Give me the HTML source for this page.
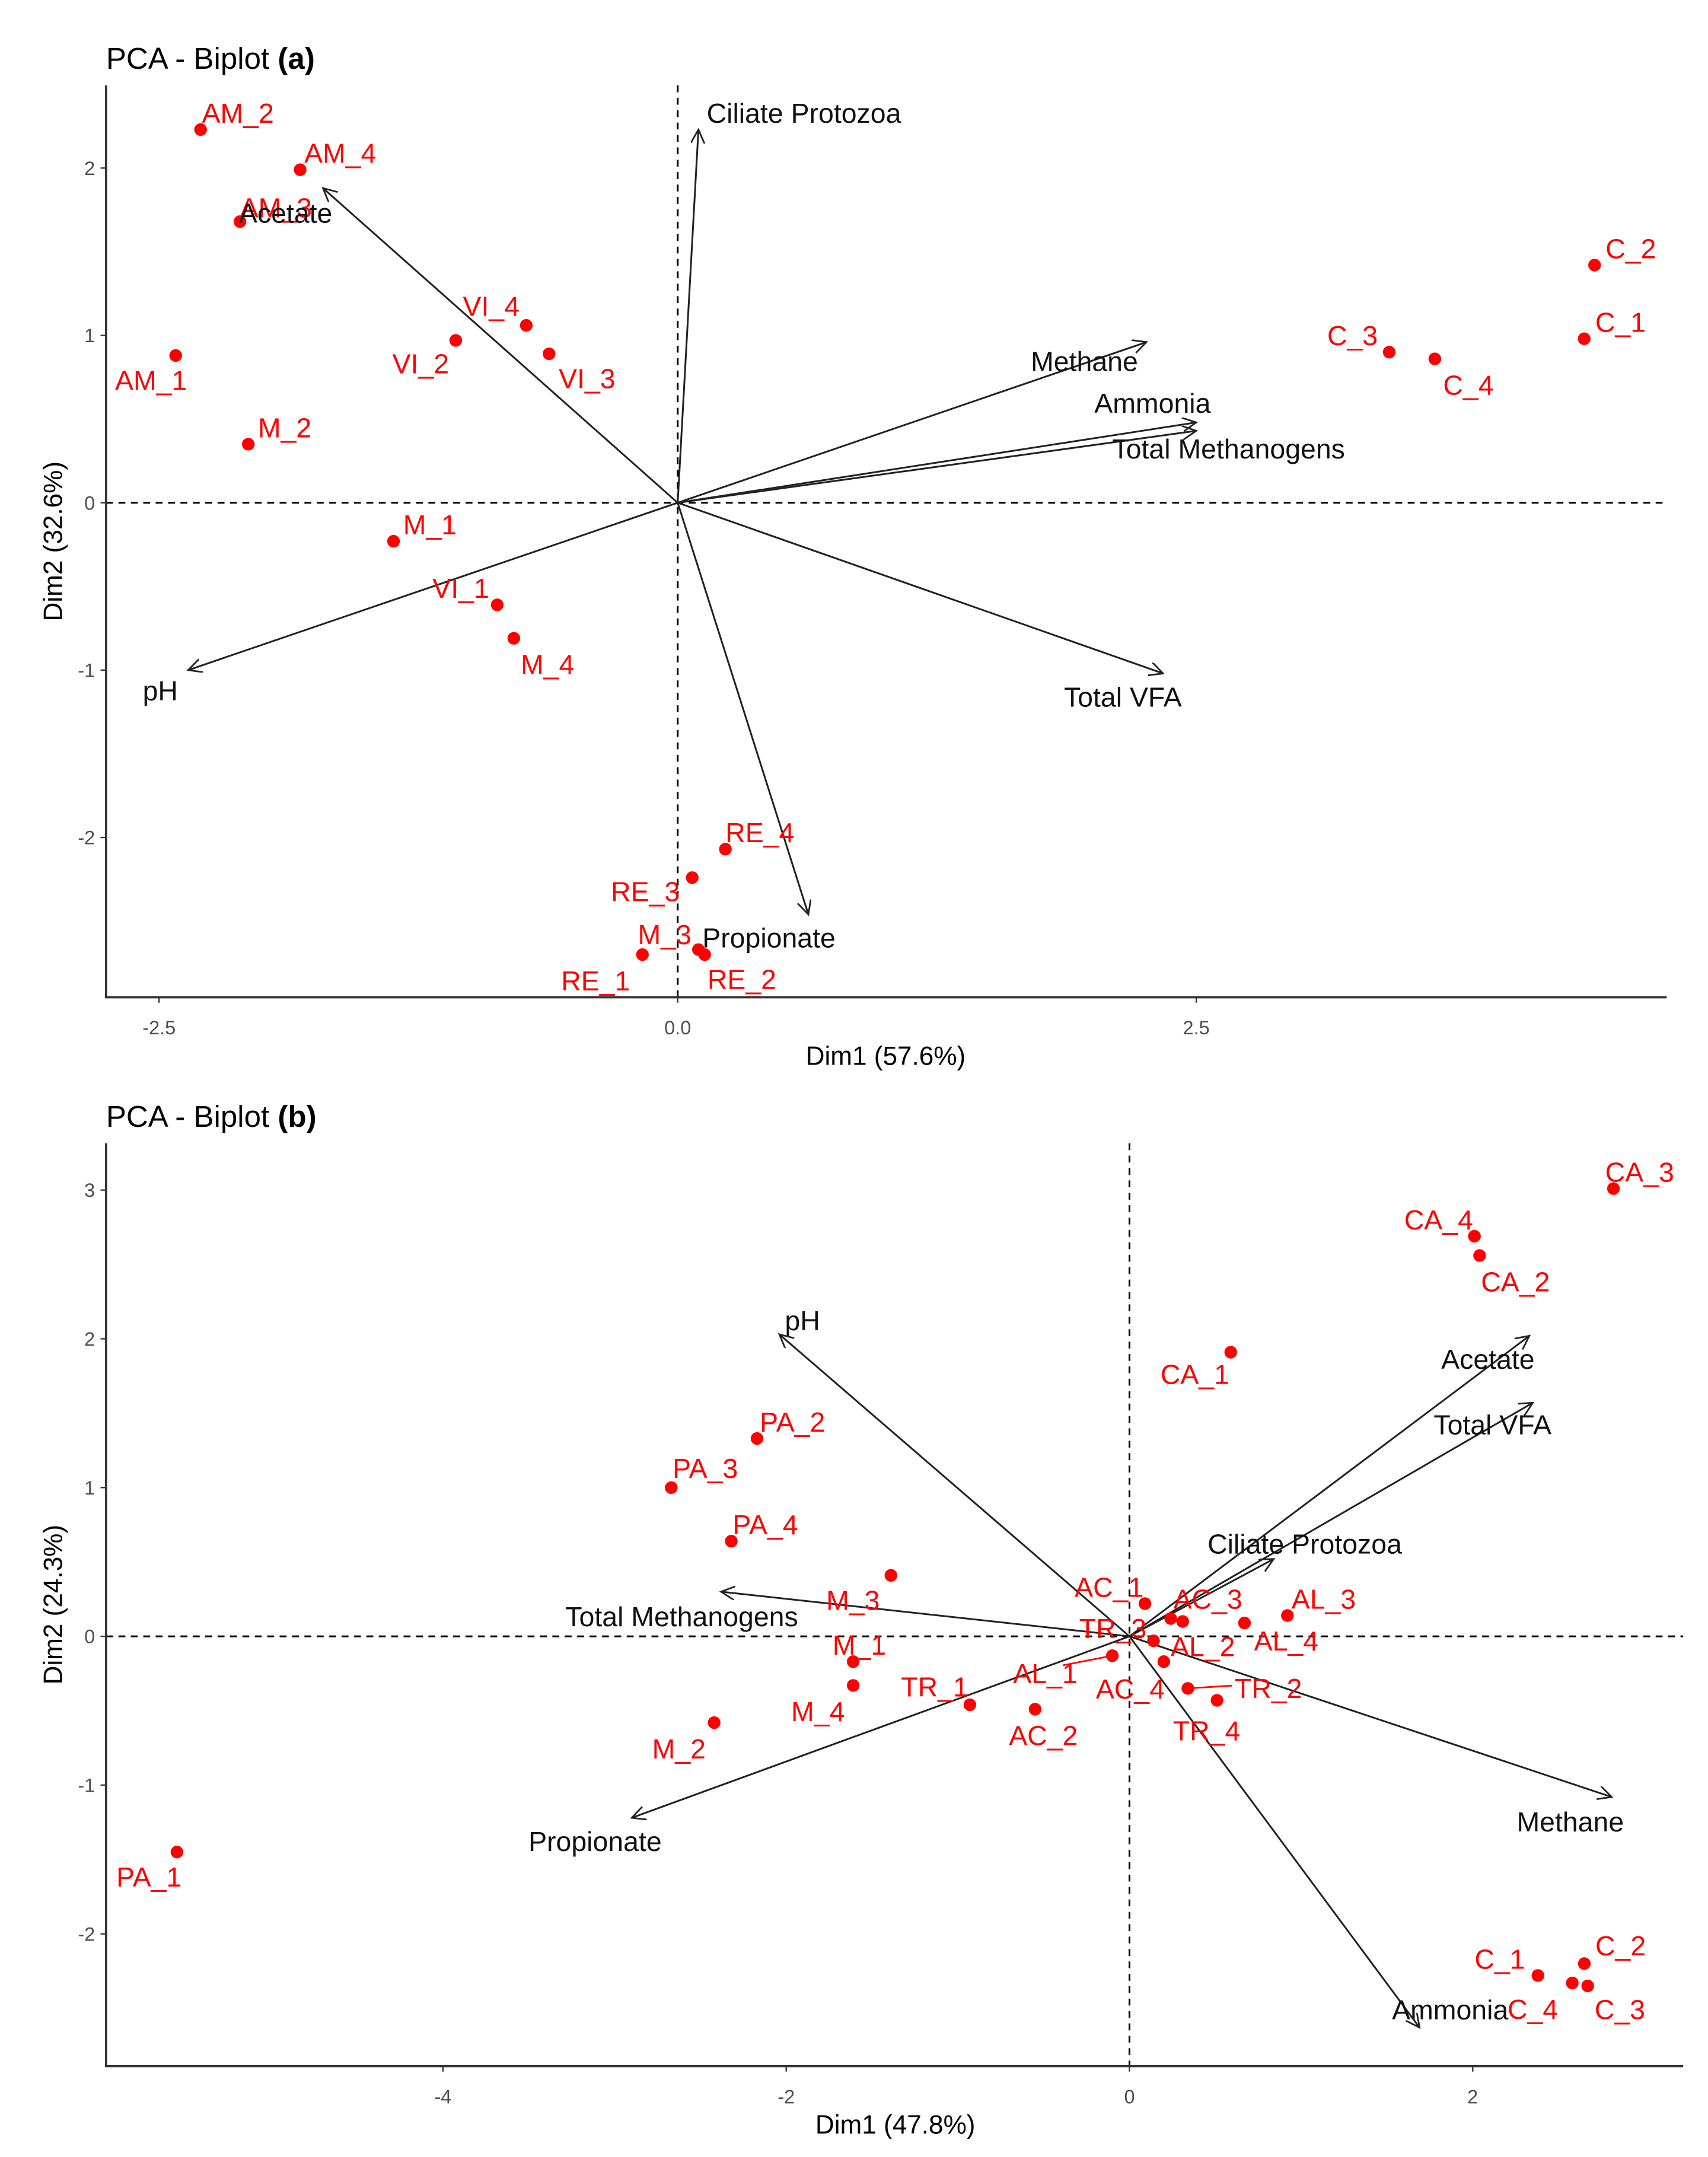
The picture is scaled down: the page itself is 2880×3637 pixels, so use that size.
<!DOCTYPE html>
<html><head><meta charset="utf-8"><style>
html,body{margin:0;padding:0;background:#fff}
svg{display:block}
text{font-family:"Liberation Sans",Arial,sans-serif}
</style></head><body>
<svg id="chart" width="2880" height="3637" viewBox="0 0 1240 1566" preserveAspectRatio="none" xmlns="http://www.w3.org/2000/svg">
<defs><marker id="ah" markerWidth="12" markerHeight="12" refX="10" refY="5" orient="auto" markerUnits="userSpaceOnUse"><path d="M0,0 L10,5 L0,10" fill="none" stroke="#222" stroke-width="1.2"/></marker></defs>
<g id="root"></g>
</svg>
<script>
// ---------- Panel (a) data ----------
const aNames = ["AM_2","AM_4","AM_3","AM_1","M_2","VI_4","VI_2","VI_3","M_1","VI_1","M_4","RE_4","RE_3","M_3","RE_2","RE_1","C_2","C_1","C_3","C_4"];
const aDim1 = [-2.30,-1.82,-2.11,-2.42,-2.07,-0.73,-1.07,-0.62,-1.37,-0.87,-0.79,0.23,0.07,0.10,0.13,-0.17,4.42,4.37,3.43,3.65];
const aDim2 = [2.23,1.99,1.68,0.88,0.35,1.06,0.97,0.89,-0.23,-0.61,-0.81,-2.07,-2.24,-2.67,-2.70,-2.70,1.42,0.98,0.90,0.86];
const aVarNames = ["Ciliate Protozoa","Acetate","Methane","Ammonia","Total Methanogens","Total VFA","pH","Propionate"];
const aVarX = [0.10,-1.71,2.26,2.50,2.50,2.34,-2.36,0.63];
const aVarY = [2.23,1.88,0.96,0.48,0.43,-1.02,-1.00,-2.46];
const aXTicks = [-2.5,0,2.5];
const aXTickLabels = ["-2.5","0.0","2.5"];
const aYTicks = [-2,-1,0,1,2];
const aYTickLabels = ["-2","-1","0","1","2"];
// ---------- Panel (b) data ----------
const bNames = ["CA_3","CA_4","CA_2","CA_1","PA_2","PA_3","PA_4","M_3","M_1","M_4","M_2","TR_1","AC_2","AL_1","AC_1","AC_3","AC_4","AL_4","AL_3","TR_3","AL_2","TR_2","TR_4","PA_1","C_1","C_2","C_4","C_3"];
const bDim1 = [2.82,2.01,2.04,0.59,-2.17,-2.67,-2.32,-1.39,-1.61,-1.61,-2.42,-0.93,-0.55,-0.10,0.09,0.24,0.31,0.67,0.92,0.14,0.20,0.34,0.51,-5.55,2.38,2.65,2.58,2.67];
const bDim2 = [3.01,2.69,2.56,1.91,1.33,1.00,0.64,0.41,-0.17,-0.33,-0.58,-0.46,-0.49,-0.13,0.22,0.12,0.10,0.09,0.14,-0.03,-0.17,-0.35,-0.43,-1.45,-2.28,-2.20,-2.33,-2.35];
const bVarNames = ["pH","Acetate","Total VFA","Ciliate Protozoa","Total Methanogens","Propionate","Methane","Ammonia"];
const bVarX = [-2.04,2.33,2.35,0.84,-2.38,-2.90,2.81,1.69];
const bVarY = [2.03,2.02,1.57,0.52,0.30,-1.22,-1.08,-2.63];
const bXTicks = [-4,-2,0,2];
const bXTickLabels = ["-4","-2","0","2"];
const bYTicks = [-2,-1,0,1,2,3];
const bYTickLabels = ["-2","-1","0","1","2","3"];

// ---------- layout (not data) ----------
const aLabOff = [[1,-5],[3,-5],[0,-3],[-44,25],[7,-5],[-46,-7],[-46,24],[7,25],[7,-5],[-47,-5],[5,26],[0,-5],[-59,17],[-44,-4],[2,25],[-59,26],[8,-5],[8,-5],[-45,-5],[6,26]];
const aVarLabOff = [[6,-5],[-61,25],[-84,21],[-74,-7],[-61,20],[-72,24],[-33,22],[-77,24]];
const bLabOff = [[-6,-5],[-51,-5],[1,26],[-51,23],[2,-5],[1,-7],[1,-5],[-47,25],[-15,-5],[-45,26],[-45,26],[-50,-6],[-19,26],[-72,20],[-51,-5],[2,-7],[-63,56],[7,20],[3,-5],[-54,-2],[5,-4],[34,7],[-32,29],[-44,25],[-46,-5],[8,-6],[-47,26],[5,24]];
const bVarLabOff = [[4,-3],[-64,24],[-72,23],[-48,-4],[-113,25],[-75,24],[-69,25],[-20,-6]];

const NS="http://www.w3.org/2000/svg";
const root=document.getElementById('root');
function mk(tag,attrs,parent,txt){const e=document.createElementNS(NS,tag);for(const k in attrs)e.setAttribute(k,attrs[k]);if(txt!==undefined)e.textContent=txt;(parent||root).appendChild(e);return e;}

function panel(cfg){
  const g=mk('g',{});
  
  
  const sx=v=>cfg.x0+cfg.kx*v, sy=v=>cfg.y0-cfg.ky*v;
  const t=mk('text',{x:cfg.L,y:cfg.titleY,'font-size':22,fill:'#000'},g);
  
  
  mk('tspan',{},t,'PCA - Biplot ');
  mk('tspan',{'font-weight':'bold'},t,cfg.tag);
  // dashed zero lines
  const hz=mk('line',{x1:cfg.L,x2:cfg.R,y1:sy(0),y2:sy(0),stroke:'#000','stroke-width':1.3,'stroke-dasharray':'5,4'},g);
  
  
  const vz=mk('line',{x1:sx(0),x2:sx(0),y1:cfg.T,y2:cfg.B,stroke:'#000','stroke-width':1.3,'stroke-dasharray':'5,4'},g);
  
  
  // axes
  const ax=mk('path',{d:`M${cfg.L},${cfg.T} L${cfg.L},${cfg.B} L${cfg.R},${cfg.B}`,fill:'none',stroke:'#333','stroke-width':1.6},g);
  
  
  cfg.xt.forEach((v,i)=>{
    mk('line',{x1:sx(v),x2:sx(v),y1:cfg.B,y2:cfg.B+4,stroke:'#333'},g);
    const tl=mk('text',{x:sx(v),y:cfg.B+27,'font-size':14,fill:'#4d4d4d','text-anchor':'middle'},g,cfg.xtl[i]);
    
    
  });
  cfg.yt.forEach((v,i)=>{
    mk('line',{x1:cfg.L-4,x2:cfg.L,y1:sy(v),y2:sy(v),stroke:'#333'},g);
    const tl=mk('text',{x:cfg.L-8,y:sy(v)+5,'font-size':14,fill:'#4d4d4d','text-anchor':'end'},g,cfg.ytl[i]);
    
    
  });
  const xt=mk('text',{x:cfg.xtX,y:cfg.B+49,'font-size':19,fill:'#000','text-anchor':'middle'},g,cfg.xTitle);
  
  
  const yt=mk('text',{x:0,y:0,'font-size':19,fill:'#000','text-anchor':'middle',transform:`translate(45,${cfg.ytY}) rotate(-90)`},g,cfg.yTitle);
  
  
  // arrows
  cfg.vn.forEach((n,i)=>{
    const l=mk('line',{x1:sx(0),y1:sy(0),x2:sx(cfg.vx[i]),y2:sy(cfg.vy[i]),stroke:'#222','stroke-width':1.3,'marker-end':'url(#ah)'},g);
    
    
  });
  // points
  cfg.names.forEach((n,i)=>{
    const c=mk('circle',{cx:sx(cfg.d1[i]),cy:sy(cfg.d2[i]),r:4.6,fill:'#ff0000'},g);
    
    
  });
  cfg.names.forEach((n,i)=>{
    const o=cfg.lo[i];
    const tl=mk('text',{x:sx(cfg.d1[i])+o[0],y:sy(cfg.d2[i])+o[1],'font-size':20,fill:'#ff0000'},g,n);
    
    
  });
  cfg.vn.forEach((n,i)=>{
    const o=cfg.vlo[i];
    const tl=mk('text',{x:sx(cfg.vx[i])+o[0],y:sy(cfg.vy[i])+o[1],'font-size':20,fill:'#111'},g,n);
    
    
  });
  return {g,sx,sy};
}

panel({id:'panel-a',tag:'(a)',L:77,R:1210,T:62,B:724,x0:492,kx:150.6,y0:365,ky:121.5,titleY:50,
  xt:aXTicks,xtl:aXTickLabels,yt:aYTicks,ytl:aYTickLabels,xTitle:'Dim1 (57.6%)',yTitle:'Dim2 (32.6%)',xtX:643,ytY:393,
  names:aNames,d1:aDim1,d2:aDim2,lo:aLabOff,vn:aVarNames,vx:aVarX,vy:aVarY,vlo:aVarLabOff});
const pb=panel({id:'panel-b',tag:'(b)',L:77,R:1222,T:830,B:1500,x0:820,kx:124.6,y0:1188,ky:108,titleY:818,
  xt:bXTicks,xtl:bXTickLabels,yt:bYTicks,ytl:bYTickLabels,xTitle:'Dim1 (47.8%)',yTitle:'Dim2 (24.3%)',xtX:650,ytY:1165,
  names:bNames,d1:bDim1,d2:bDim2,lo:bLabOff,vn:bVarNames,vx:bVarX,vy:bVarY,vlo:bVarLabOff});
// repel connector segments (panel b)
[["AL_1",-36,7],["TR_2",32,-2]].forEach(s=>{
  const i=bNames.indexOf(s[0]);
  const x=pb.sx(bDim1[i]), y=pb.sy(bDim2[i]);
  const l=mk('line',{x1:x,y1:y,x2:x+s[1],y2:y+s[2],stroke:'#ff0000','stroke-width':1.2},pb.g);
  
  
});
</script>
</body></html>
